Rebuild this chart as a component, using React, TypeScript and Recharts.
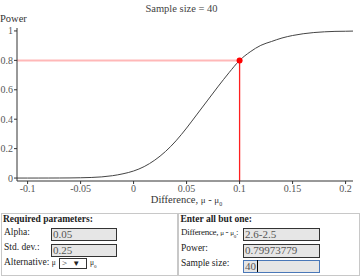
import { LineChart, Line, XAxis, YAxis, ReferenceLine, ReferenceDot } from "recharts";

// Power curve (difference vs power, n = 40)
const differences = [
  -0.11, -0.1, -0.09, -0.08, -0.07, -0.06, -0.05, -0.04, -0.03, -0.02, -0.01, 0, 0.01, 0.02, 0.03,
  0.04, 0.05, 0.06, 0.07, 0.08, 0.09, 0.1, 0.11, 0.12, 0.13, 0.14, 0.15, 0.16, 0.17, 0.18, 0.19, 0.2,
  0.207,
];
const powers = [
  0, 0, 0.0001, 0.0002, 0.0004, 0.0009, 0.002, 0.004, 0.008, 0.016, 0.029, 0.048, 0.078, 0.122, 0.18,
  0.253, 0.34, 0.435, 0.53, 0.625, 0.716, 0.7997, 0.858, 0.902, 0.928, 0.952, 0.969, 0.981, 0.989,
  0.994, 0.997, 0.998, 0.999,
];
const xTicks = [-0.1, -0.05, 0, 0.05, 0.1, 0.15, 0.2];
const yTicks = [0, 0.2, 0.4, 0.6, 0.8, 1];
const target = { difference: 0.1, power: 0.7997 };
const xDomain = [-0.11, 0.207];
const yDomain = [-0.02, 1.02];

const data = differences.map((d, i) => ({ d, p: powers[i] }));

const SERIF = "'Liberation Serif', 'DejaVu Serif', 'Times New Roman', serif";
const TICK = { fontSize: 10, fill: "#555", fontFamily: SERIF };

function Field({ x, y, w, h, value, focus }: { x: number; y: number; w: number; h: number; value: string; focus?: boolean }) {
  return (
    <div
      style={{
        position: "absolute",
        left: x,
        top: y,
        width: w,
        height: h,
        boxSizing: "border-box",
        background: "#e6e6e6",
        border: focus ? "1.5px solid #4a78b8" : "1.5px solid #333",
        fontSize: 11,
        lineHeight: `${h - 3}px`,
        paddingLeft: 1,
        color: "#555",
        fontFamily: SERIF,
        whiteSpace: "nowrap",
      }}
    >
      {value}
      {focus && <span style={{ borderLeft: "1px solid #000", marginLeft: 1 }} />}
    </div>
  );
}

function Txt({ x, y, children, bold, size = 9.5, spacing = 0 }: { x: number; y: number; children: React.ReactNode; bold?: boolean; size?: number; spacing?: number }) {
  return (
    <div
      style={{
        position: "absolute",
        left: x,
        top: y - 5,
        height: 10,
        fontSize: size,
        letterSpacing: spacing,
        fontWeight: bold ? 700 : 400,
        color: "#222",
        whiteSpace: "nowrap",
        lineHeight: "10px",
        fontFamily: SERIF,
      }}
    >
      {children}
    </div>
  );
}

const mu = { fontSize: 7.5 };
const sub = { fontSize: 5, lineHeight: 0 };

export default function App() {
  return (
    <div style={{ position: "absolute", left: 0, top: 0, width: 363, height: 278, background: "#fff", fontFamily: SERIF, overflow: "hidden" }}>
      <div style={{ position: "absolute", left: 0, width: 363, top: 3, textAlign: "center", fontSize: 10.5, lineHeight: "12px", color: "#444" }}>
        Sample size = 40
      </div>
      <div style={{ position: "absolute", left: 0, top: 13, fontSize: 10.5, lineHeight: "12px", color: "#333" }}>Power</div>

      <LineChart width={363} height={205} data={data} margin={{ top: 28, right: 10, left: 0, bottom: 0 }}>
        <XAxis
          dataKey="d"
          type="number"
          domain={xDomain}
          ticks={xTicks}
          tick={TICK}
          tickSize={3}
          tickMargin={1}
          height={24}
          stroke="#333"
          allowDataOverflow
        />
        <YAxis
          type="number"
          domain={yDomain}
          ticks={yTicks}
          tick={TICK}
          tickSize={3}
          tickMargin={1}
          width={17}
          stroke="#333"
          allowDataOverflow
        />
        <ReferenceLine
          segment={[
            { x: xDomain[0], y: target.power },
            { x: target.difference, y: target.power },
          ]}
          stroke="#ffb8b8"
          strokeWidth={2}
        />
        <ReferenceLine
          segment={[
            { x: target.difference, y: target.power },
            { x: target.difference, y: yDomain[0] },
          ]}
          stroke="#ff2020"
          strokeWidth={1.3}
        />
        <Line dataKey="p" type="monotone" stroke="#444" strokeWidth={1} dot={false} isAnimationActive={false} />
        <ReferenceDot x={target.difference} y={target.power} r={3} fill="#ff0000" stroke="none" />
      </LineChart>

      <div style={{ position: "absolute", left: 0, width: 363, top: 194, textAlign: "center", fontSize: 10.5, lineHeight: "11px", color: "#333", paddingLeft: 10, boxSizing: "border-box" }}>
        Difference, <span style={{ fontSize: 9 }}>μ</span> - <span style={{ fontSize: 9 }}>μ</span>
        <sub style={{ fontSize: 6, lineHeight: 0 }}>0</sub>
      </div>

      <div style={{ position: "absolute", left: 1, top: 213, width: 177, height: 63, boxSizing: "border-box", border: "1.5px solid #c8c8c8" }} />
      <div style={{ position: "absolute", left: 178, top: 213, width: 182, height: 63, boxSizing: "border-box", border: "1.5px solid #c8c8c8" }} />

      <Txt x={3} y={218.5} bold>Required parameters:</Txt>
      <Txt x={4} y={232}>Alpha:</Txt>
      <Field x={51} y={228} w={66} h={13} value="0.05" />
      <Txt x={4} y={247}>Std. dev.:</Txt>
      <Field x={51} y={244} w={66} h={13} value="0.25" />
      <Txt x={4} y={262}>
        Alternative: <span style={mu}>μ</span>
      </Txt>
      <div style={{ position: "absolute", left: 59, top: 258, width: 28, height: 11, boxSizing: "border-box", border: "1px solid #333", fontSize: 9, lineHeight: "9px", paddingLeft: 2, color: "#222", whiteSpace: "nowrap" }}>
        &gt; <span style={{ marginLeft: 3, fontSize: 8 }}>▼</span>
      </div>
      <Txt x={90} y={262}>
        <span style={mu}>μ</span>
        <sub style={sub}>0</sub>
      </Txt>

      <Txt x={180.5} y={218.5} bold>Enter all but one:</Txt>
      <Txt x={181} y={232} size={9} spacing={-0.3}>
        Difference, <span style={{ fontSize: 7 }}>μ</span> - <span style={{ fontSize: 7 }}>μ</span>
        <sub style={sub}>0</sub>:
      </Txt>
      <Field x={243} y={228} w={77} h={13} value="2.6-2.5" />
      <Txt x={181} y={248}>Power:</Txt>
      <Field x={243} y={244} w={77} h={14} value="0.79973779" />
      <Txt x={181} y={263}>Sample size:</Txt>
      <Field x={243} y={260} w={77} h={13} value="40" focus />
    </div>
  );
}
